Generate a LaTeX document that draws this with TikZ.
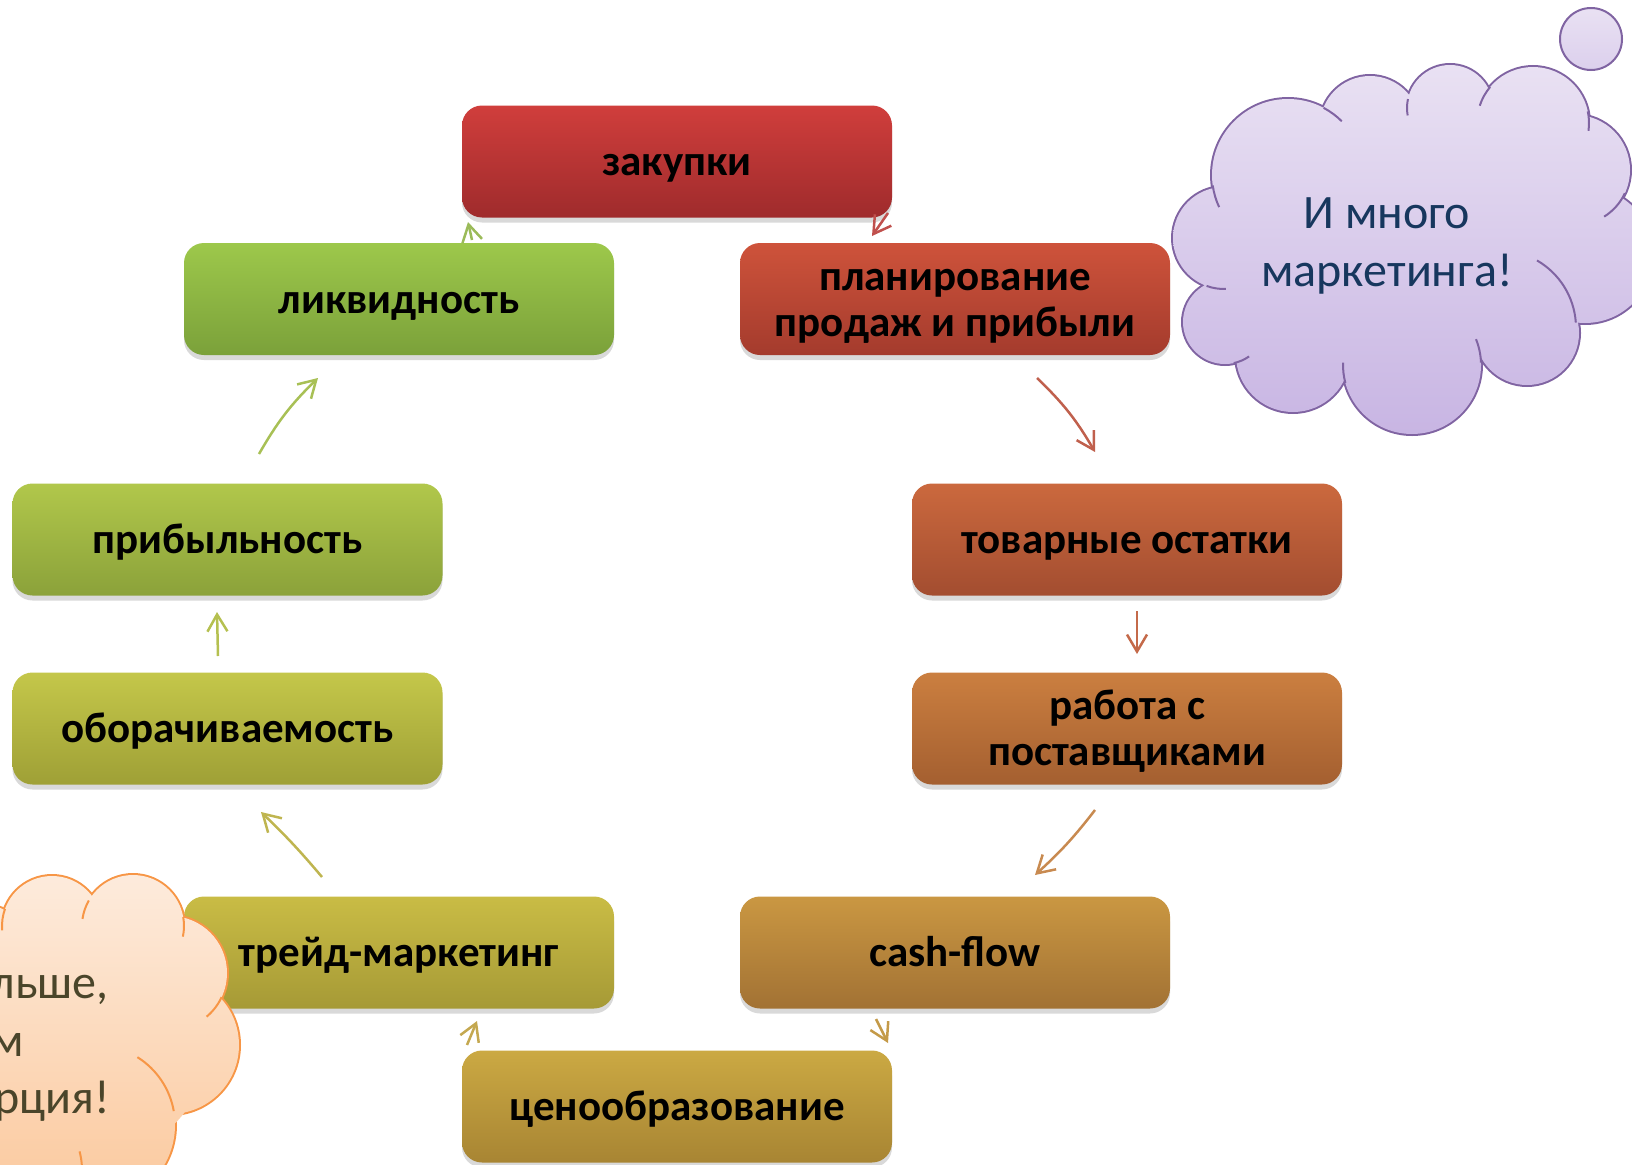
\documentclass[tikz,border=0pt]{standalone}
\usepackage{fontspec}
\setmainfont{Carlito}
\usetikzlibrary{arrows.meta,shadows}
\definecolor{zakT}{HTML}{D03E3C}\definecolor{zakB}{HTML}{9F2B2C}
\definecolor{plaT}{HTML}{CE533B}\definecolor{plaB}{HTML}{A43B2D}
\definecolor{tovT}{HTML}{CB693E}\definecolor{tovB}{HTML}{A34D30}
\definecolor{rabT}{HTML}{CB7F40}\definecolor{rabB}{HTML}{A45F30}
\definecolor{casT}{HTML}{CA9742}\definecolor{casB}{HTML}{A27234}
\definecolor{cenT}{HTML}{CBA943}\definecolor{cenB}{HTML}{A88533}
\definecolor{treT}{HTML}{C9BC45}\definecolor{treB}{HTML}{A69A36}
\definecolor{oboT}{HTML}{C4C74A}\definecolor{oboB}{HTML}{9FA036}
\definecolor{priT}{HTML}{B1C74B}\definecolor{priB}{HTML}{8BA23A}
\definecolor{likT}{HTML}{9DC84B}\definecolor{likB}{HTML}{7BA13A}
\definecolor{pOut}{HTML}{8064A2}\definecolor{pTop}{HTML}{E9E1F3}\definecolor{pBot}{HTML}{C8B5E3}
\definecolor{oOut}{HTML}{F79646}\definecolor{oTop}{HTML}{FDEBDC}\definecolor{oBot}{HTML}{FBC698}
\definecolor{pText}{HTML}{17375E}\definecolor{oText}{HTML}{4A452A}
\definecolor{arA}{HTML}{C0504D}\definecolor{arB}{HTML}{C0604D}\definecolor{arC}{HTML}{C46A4A}
\definecolor{arD}{HTML}{C88A50}\definecolor{arE}{HTML}{C49A48}\definecolor{arF}{HTML}{C4A850}
\definecolor{arG}{HTML}{BFB550}\definecolor{arH}{HTML}{B5C050}\definecolor{arI}{HTML}{A8C055}
\definecolor{arJ}{HTML}{9BBB59}
\tikzset{
  box/.style={rounded corners=20pt, minimum width=430pt, minimum height=112pt, inner sep=0pt,
    align=center, font=\fontsize{43}{47}\selectfont\bfseries, text=black,
    drop shadow={shadow xshift=0pt, shadow yshift=-5pt, opacity=0.3}},
  conn/.style={line width=2.5pt, -{Straight Barb[length=17pt,width=20pt]}},
  cloudtext/.style={font=\fontsize{48}{57}\selectfont, inner sep=0pt},
}
\newcommand{\bx}[1]{\raisebox{-5pt}[\height][\depth]{\begin{tabular}{@{}c@{}}#1\end{tabular}}}
\begin{document}
\begin{tikzpicture}[x=1pt,y=-1pt]
\useasboundingbox (0,0) rectangle (1632,1164);
\clip (0,0) rectangle (1632,1164);

% boxes
\node[box, top color=zakT, bottom color=zakB] (zak) at (677,161.5) {\bx{закупки}};
\node[box, top color=likT, bottom color=likB] (lik) at (399,299) {\bx{ликвидность}};
\node[box, top color=plaT, bottom color=plaB] (pla) at (955,299) {\bx{планирование\\[-1pt]продаж и прибыли}};
\node[box, top color=priT, bottom color=priB] (pri) at (227.5,539.5) {\bx{прибыльность}};
\node[box, top color=tovT, bottom color=tovB] (tov) at (1127,539.5) {\bx{товарные остатки}};
\node[box, top color=oboT, bottom color=oboB] (obo) at (227.5,728.5) {\bx{оборачиваемость}};
\node[box, top color=rabT, bottom color=rabB] (rab) at (1127,728.5) {\bx{работа с\\[-1pt]поставщиками}};
\node[box, top color=treT, bottom color=treB] (tre) at (399,952.5) {\bx{трейд-маркетинг}};
\node[box, top color=casT, bottom color=casB] (cas) at (955,952.5) {\bx{cash-flow}};
\node[box, top color=cenT, bottom color=cenB] (cen) at (677,1106.5) {\bx{ценообразование}};

% arrow end points
\coordinate (a1s) at (888,213);  \coordinate (a1e) at (872,236);
\coordinate (a2s) at (1037,378); \coordinate (a2e) at (1095,452);
\coordinate (a3s) at (1137,611); \coordinate (a3e) at (1137,654);
\coordinate (a4s) at (1095,810); \coordinate (a4e) at (1035,875);
\coordinate (a5s) at (876,1019);  \coordinate (a5e) at (888,1043);
\coordinate (a6s) at (467,1045); \coordinate (a6e) at (477,1021);
\coordinate (a7s) at (322,877);  \coordinate (a7e) at (261,812);
\coordinate (a8s) at (218,656);  \coordinate (a8e) at (217,612);
\coordinate (a9s) at (259,454);  \coordinate (a9e) at (318,378);
\coordinate (a10s) at (472,240); \coordinate (a10e) at (468,222);

\draw[conn, arA] (a1s) -- (a1e);
\draw[conn, arB] (a2s) to[bend left=8] (a2e);
\draw[conn, arC] (a3s) -- (a3e);
\draw[conn, arD] (a4s) to[bend left=5] (a4e);
\draw[conn, arE] (a5s) -- (a5e);
\draw[conn, arF] (a6s) -- (a6e);
\draw[conn, arG] (a7s) to[bend right=3] (a7e);
\draw[conn, arH] (a8s) -- (a8e);
\draw[conn, arI] (a9s) to[bend left=8] (a9e);
\draw[conn, arJ] (a10s) -- (a10e);

% purple cloud
\foreach \cx/\cy/\r in {1288/175/76, 1370/126/50, 1450/108/43, 1533/123/56, 1575/170/55,
  1585/255/68, 1527/333/52, 1412/365/69, 1293/355/57, 1225/322/42, 1224/238/51}
  \draw[line width=4pt, pOut] (\cx,\cy) circle[radius=\r pt];
\shade[top color=pTop, bottom color=pBot]
  \foreach \cx/\cy/\r in {1288/175/76, 1370/126/50, 1450/108/43, 1533/123/56, 1575/170/55,
  1585/255/68, 1527/333/52, 1412/365/69, 1293/355/57, 1225/322/42, 1224/238/51}
  {(\cx,\cy) circle[radius=\r pt]}
  (1400,240) ellipse[x radius=170pt, y radius=120pt];
\begin{scope}[line width=2pt, pOut]
\draw (1288,175) ++(62:76pt) arc[start angle=62, end angle=45, radius=76pt];
\draw (1450,108) ++(168:43pt) arc[start angle=168, end angle=190, radius=43pt];
\draw (1533,123) ++(140:56pt) arc[start angle=140, end angle=162, radius=56pt];
\draw (1533,123) ++(12:56pt) arc[start angle=12, end angle=-8, radius=56pt];
\draw (1575,170) ++(-25:55pt) arc[start angle=-25, end angle=-58, radius=55pt];
\draw (1498,328) ++(60:78pt) arc[start angle=60, end angle=4, radius=78pt];
\draw (1412,365) ++(2:69pt) arc[start angle=2, end angle=22, radius=69pt];
\draw (1412,365) ++(195:69pt) arc[start angle=195, end angle=178, radius=69pt];
\draw (1225,322) ++(-78:42pt) arc[start angle=-78, end angle=-55, radius=42pt];
\draw (1224,238) ++(-88:51pt) arc[start angle=-88, end angle=-110, radius=51pt];
\draw (1288,175) ++(188:76pt) arc[start angle=188, end angle=205, radius=76pt];
\end{scope}
\shade[top color=pTop, bottom color=pTop!60!pBot, draw=pOut, line width=2pt] (1591,39) circle[radius=31pt];
\node[cloudtext, text=pText, anchor=base] (ptxt) at (1387,228) {И много};
\node[cloudtext, text=pText, anchor=base] (ptxt2) at (1387,286) {маркетинга!};

% orange cloud
\foreach \cx/\cy/\r in {-15/945/40, 52/926/50, 133/926/51, 170/973/57, 170/1045/69, 95/1125/80}
  \draw[line width=4pt, oOut] (\cx,\cy) circle[radius=\r pt];
\shade[top color=oTop, bottom color=oBot]
  \foreach \cx/\cy/\r in {-15/945/40, 52/926/50, 133/926/51, 170/973/57, 170/1045/69, 95/1125/80}
  {(\cx,\cy) circle[radius=\r pt]}
  (60,1040) ellipse[x radius=150pt, y radius=130pt]
  (-20,1120) circle[radius=110pt];
\begin{scope}[line width=2pt, oOut]
\draw (52,926) ++(160:50pt) arc[start angle=160, end angle=185, radius=50pt];
\draw (133,926) ++(150:51pt) arc[start angle=150, end angle=172, radius=51pt];
\draw (133,926) ++(10:51pt) arc[start angle=10, end angle=-12, radius=51pt];
\draw (170,973) ++(-25:57pt) arc[start angle=-25, end angle=-50, radius=57pt];
\draw (95,1125) ++(58:80pt) arc[start angle=58, end angle=10, radius=80pt];
\draw (10,1170) ++(15:72pt) arc[start angle=15, end angle=-5, radius=72pt];
\end{scope}
\node[cloudtext, text=oText, anchor=base east] (o1) at (109,998) {льше,};
\node[cloudtext, text=oText, anchor=base east] (o2) at (24,1056) {м};
\node[cloudtext, text=oText, anchor=base east] (o3) at (110,1113) {рция!};
\end{tikzpicture}
\end{document}
